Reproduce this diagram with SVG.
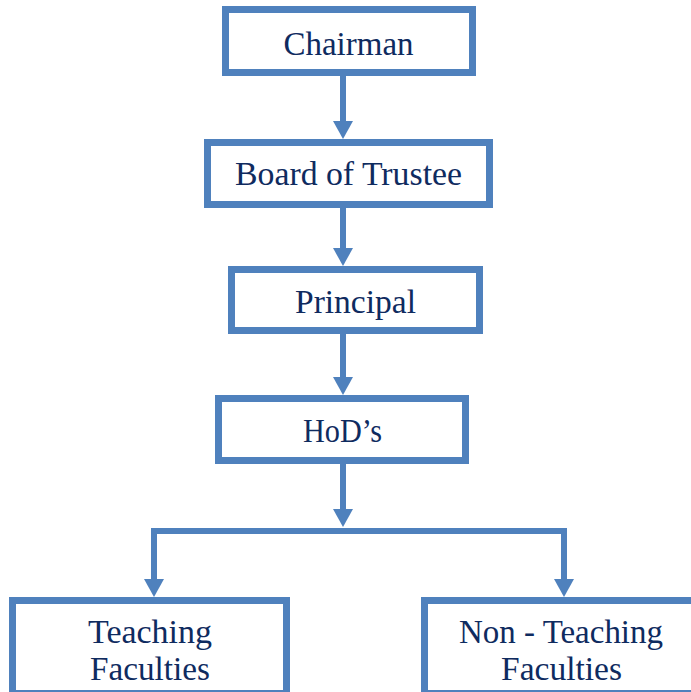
<svg xmlns="http://www.w3.org/2000/svg" width="691" height="692" viewBox="0 0 691 692">
<style>
.box{fill:#ffffff;stroke:#4F81BD;stroke-width:7}
.lbl{font-family:"Liberation Serif","Times New Roman",serif;font-size:33px;fill:#0F2B5F;text-anchor:middle}
.con{fill:none;stroke:#4F81BD;stroke-width:6;stroke-linejoin:miter}
</style>
<defs>
<marker id="ah" markerUnits="userSpaceOnUse" markerWidth="20" markerHeight="20" refX="8" refY="10" orient="auto">
<path d="M0,0 L18,10 L0,20 z" fill="#4F81BD"/>
</marker>
</defs>
<rect width="691" height="692" fill="#ffffff"/>
<g id="connectors">
<path class="con" d="M343,76 V129" marker-end="url(#ah)"/>
<path class="con" d="M343,208 V256" marker-end="url(#ah)"/>
<path class="con" d="M343,334 V385" marker-end="url(#ah)"/>
<path class="con" d="M343,464 V517" marker-end="url(#ah)"/>
<path class="con" d="M343,531 H154 V587" marker-end="url(#ah)"/>
<path class="con" d="M343,531 H564 V587" marker-end="url(#ah)"/>
</g>
<g id="chairman">
<rect class="box" x="225.5" y="9.5" width="247" height="63"/>
<text class="lbl" x="348.5" y="55" textLength="130" lengthAdjust="spacingAndGlyphs">Chairman</text>
</g>
<g id="board">
<rect class="box" x="207.5" y="142.5" width="282" height="62"/>
<text class="lbl" x="348.5" y="185" textLength="227" lengthAdjust="spacingAndGlyphs">Board of Trustee</text>
</g>
<g id="principal">
<rect class="box" x="231.5" y="269.5" width="248" height="61"/>
<text class="lbl" x="355.5" y="313" textLength="121" lengthAdjust="spacingAndGlyphs">Principal</text>
</g>
<g id="hods">
<rect class="box" x="218.5" y="398.5" width="247" height="62"/>
<text class="lbl" x="342.5" y="442" textLength="79" lengthAdjust="spacingAndGlyphs">HoD’s</text>
</g>
<g id="teaching">
<rect class="box" x="12.5" y="600.5" width="274" height="93"/>
<text class="lbl" x="150" y="643" textLength="124" lengthAdjust="spacingAndGlyphs">Teaching</text>
<text class="lbl" x="150" y="680" textLength="120" lengthAdjust="spacingAndGlyphs">Faculties</text>
</g>
<g id="nonteaching">
<rect class="box" x="424.5" y="600.5" width="276" height="93"/>
<text class="lbl" x="561" y="643" textLength="204" lengthAdjust="spacingAndGlyphs">Non - Teaching</text>
<text class="lbl" x="561.5" y="680" textLength="121" lengthAdjust="spacingAndGlyphs">Faculties</text>
</g>
</svg>
